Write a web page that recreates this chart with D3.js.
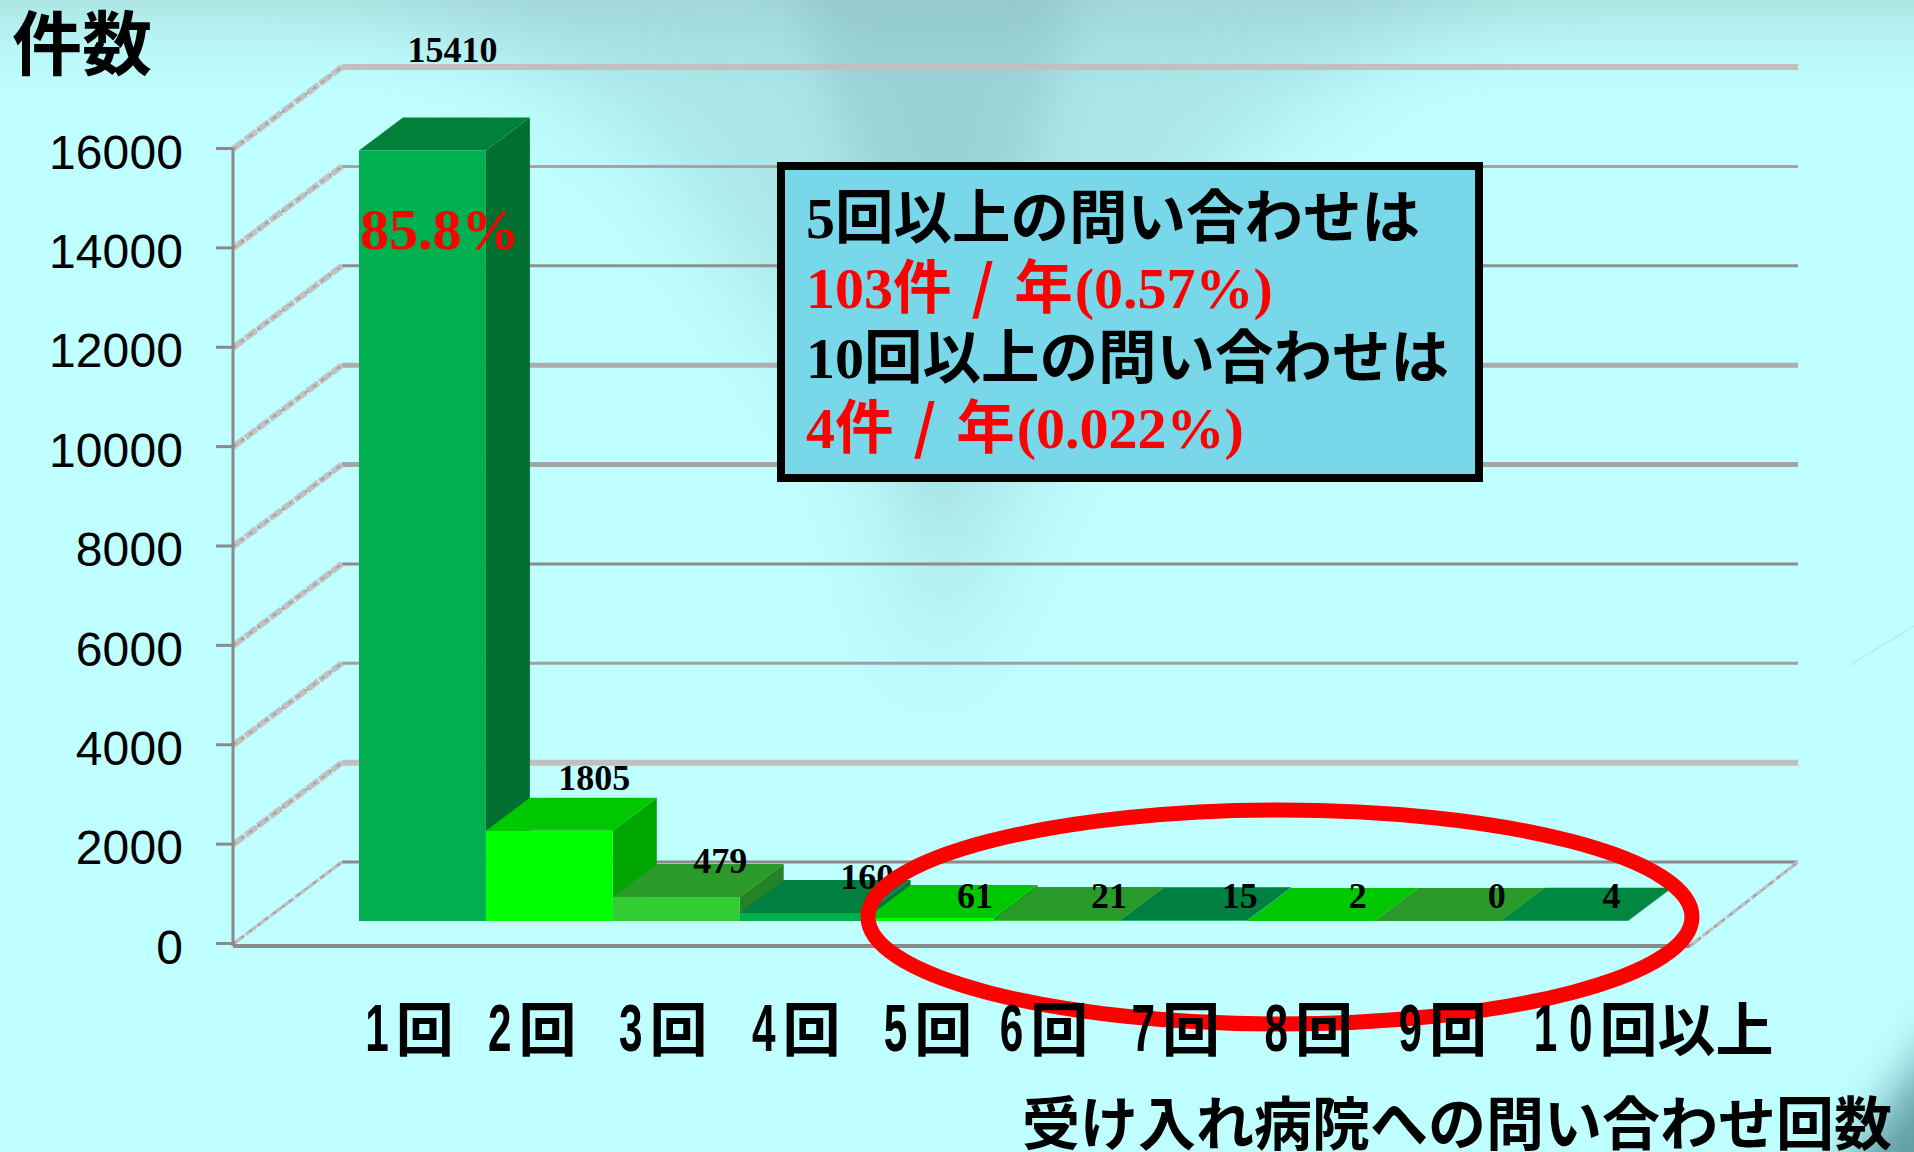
<!DOCTYPE html>
<html>
<head>
<meta charset="utf-8">
<style>
  html, body { margin: 0; padding: 0; background: #bfffff; overflow: hidden; }
  .gothic { font-family: "Noto Sans CJK JP"; font-weight: 700; }
  .serif { font-family: "Liberation Serif"; font-weight: 700; }
</style>
<script src="https://cdn.jsdelivr.net/npm/d3@7"></script>
</head>
<body>
<div id="chart"></div>
<script>
const categories = ["1", "2", "3", "4", "5", "6", "7", "8", "9", "1 0"];
const tickSuffix = ["回", "回", "回", "回", "回", "回", "回", "回", "回", "回以上"];
const counts = [15410, 1805, 479, 160, 61, 21, 15, 2, 0, 4];
const yTicks = [0, 2000, 4000, 6000, 8000, 10000, 12000, 14000, 16000];
const boxLines = [
    [["serif", "5", 0], ["gothic", "回以上の問い合わせは", 0]],
    [["serif", "103", 0], ["gothic", "件", 0], ["gothic", "/", 20], ["gothic", "年", 20], ["serif", "(0.57%)", 2]],
    [["serif", "10", 0], ["gothic", "回以上の問い合わせは", 0]],
    [["serif", "4", 0], ["gothic", "件", 0], ["gothic", "/", 20], ["gothic", "年", 20], ["serif", "(0.022%)", 2]]
];

const width = 1914, height = 1152;
const depthX = 44, depthY = 33;      // bar depth
const wallX = 109, wallY = -81;      // side wall depth

// bar faces repeat every three bars
const faces = [
    { front: "#00b050", top: "#008039", side: "#006f30" },
    { front: "#00ff00", top: "#00c800", side: "#00a600" },
    { front: "#33cc33", top: "#2a9a2a", side: "#248424" },
    { front: "#00b050", top: "#008040", side: "#00733a" },
    { front: "#00ff00", top: "#00c800", side: "#00a600" },
    { front: "#33cc33", top: "#2a9a2a", side: "#248424" },
    { front: "#00b050", top: "#008040", side: "#00733a" },
    { front: "#00ff00", top: "#00c800", side: "#00a600" },
    { front: "#33cc33", top: "#2a9a2a", side: "#248424" },
    { front: "#00b050", top: "#008840", side: "#00733a" }
];

// hand placed labels in the original
const labelDx = [-14, 1, 0, 20, 1, 8, 12, 3, 15, 3];
const labelDy = [-56, -8, 9, 9, 23, 21, 21, 20, 20, 20];
const tickDx = [-13, -17, -13, -7, -2, -13, -8, -2, 5, 89];
const gridStyle = [
    ["#8a8a8a", 3], ["#c0c0c0", 6], ["#a0a0a0", 3], ["#8c8c8c", 3], ["#a4a4a4", 5],
    ["#adadad", 5], ["#909090", 3], ["#a4a4a4", 3], ["#c0c0c0", 6]
];

const x = d3.scaleBand().domain(d3.range(counts.length)).range([359, 1628]).padding(0);
const yBar = d3.scaleLinear().domain([0, 16000]).range([921, 121]);
const yAxis = d3.scaleLinear().domain([0, 16000]).range([943, 148]);

const svg = d3.select("#chart")
              .append("svg")
              .attr("width", width)
              .attr("height", height)
              .attr("viewBox", `0 0 ${width} ${height}`)
              .style("display", "block");

// Background
const defs = svg.append("defs");
defs.append("filter").attr("id", "blur40").attr("x", "-50%").attr("y", "-50%").attr("width", "200%").attr("height", "200%")
    .append("feGaussianBlur").attr("stdDeviation", 50);
defs.append("filter").attr("id", "blur20").attr("x", "-50%").attr("y", "-50%").attr("width", "200%").attr("height", "200%")
    .append("feGaussianBlur").attr("stdDeviation", 24);
const topGrad = defs.append("linearGradient").attr("id", "topBand").attr("x1", 0).attr("y1", 0).attr("x2", 0).attr("y2", 1);
topGrad.append("stop").attr("offset", 0).attr("stop-color", "#aee4e4").attr("stop-opacity", 1);
topGrad.append("stop").attr("offset", 1).attr("stop-color", "#bfffff").attr("stop-opacity", 0);

svg.append("rect").attr("width", width).attr("height", height).attr("fill", "#bfffff");
svg.append("rect").attr("width", width).attr("height", 115).attr("fill", "url(#topBand)");
svg.append("path")
   .attr("d", "M300,-80 L1560,-80 L1240,150 L1030,470 L930,700 L880,470 L650,150 Z")
   .attr("fill", "#8fc4c8").attr("opacity", 0.42).attr("filter", "url(#blur40)");
svg.append("path")
   .attr("d", "M780,-60 L1090,-60 L1010,240 L930,520 L880,240 Z")
   .attr("fill", "#7fb4b8").attr("opacity", 0.36).attr("filter", "url(#blur20)");
svg.append("path")
   .attr("d", "M1960,1010 L1960,1200 L1820,1200 Z")
   .attr("fill", "#5f9ca4").attr("filter", "url(#blur20)");
svg.append("line").attr("x1", 1850).attr("y1", 665).attr("x2", 1914).attr("y2", 626)
   .attr("stroke", "#a8e4e4").attr("stroke-width", 2).attr("opacity", 0.5);

// Wall grid
const grid = svg.append("g");
grid.selectAll("line.back")
    .data(yTicks)
    .join("line")
    .attr("class", "back")
    .attr("x1", 233 + wallX).attr("x2", 1798)
    .attr("y1", d => yAxis(d) + wallY).attr("y2", d => yAxis(d) + wallY)
    .attr("stroke", (d, i) => gridStyle[i][0])
    .attr("stroke-width", (d, i) => gridStyle[i][1]);

grid.selectAll("line.wall")
    .data(yTicks)
    .join("line")
    .attr("class", "wall")
    .attr("x1", 233).attr("x2", 233 + wallX)
    .attr("y1", d => yAxis(d) + 1).attr("y2", d => yAxis(d) + wallY)
    .attr("stroke", "#c2c2c2")
    .attr("stroke-width", d => d === 0 ? 3.5 : 6)
    .attr("stroke-dasharray", "14 1.5");
grid.selectAll("line.wallInner")
    .data(yTicks)
    .join("line")
    .attr("class", "wallInner")
    .attr("x1", 233).attr("x2", 233 + wallX)
    .attr("y1", d => yAxis(d) + 1).attr("y2", d => yAxis(d) + wallY)
    .attr("stroke", "#9a9a9a")
    .attr("stroke-width", 1.5)
    .attr("stroke-dasharray", "4 6");

// Right end of the floor
grid.append("line")
    .attr("x1", 1690).attr("y1", 946).attr("x2", 1798).attr("y2", 862)
    .attr("stroke", "#c2c2c2").attr("stroke-width", 3.5).attr("stroke-dasharray", "14 1.5");
grid.append("line")
    .attr("x1", 1690).attr("y1", 946).attr("x2", 1798).attr("y2", 862)
    .attr("stroke", "#9a9a9a").attr("stroke-width", 1.5).attr("stroke-dasharray", "4 6");

// Axes
const axisG = svg.append("g").attr("transform", "translate(233,0)")
    .call(d3.axisLeft(yAxis).tickValues(yTicks).tickSize(17).tickPadding(33).tickFormat(d3.format("d")));
axisG.select(".domain").attr("stroke", "#8a8a8a").attr("stroke-width", 3).attr("d", "M0,148V946");
axisG.selectAll(".tick line").attr("stroke", "#8a8a8a").attr("stroke-width", 3);
axisG.selectAll(".tick text")
     .attr("font-family", "Liberation Sans")
     .attr("font-size", 48)
     .attr("letter-spacing", 0.1)
     .attr("fill", "#000")
     .attr("dy", "0.42em");

svg.append("line")
   .attr("x1", 233).attr("x2", 1690).attr("y1", 946).attr("y2", 946)
   .attr("stroke", "#8a8a8a").attr("stroke-width", 4);

// Bars, left to right so each one covers the side of the last
const bars = svg.append("g")
                .selectAll("g")
                .data(counts)
                .join("g");

bars.append("path")
    .attr("fill", (d, i) => faces[i].side)
    .attr("d", (d, i) => {
        const r = x(i) + x.bandwidth(), t = yBar(d), b = yBar(0);
        return `M${r},${t}L${r + depthX},${t - depthY}L${r + depthX},${b - depthY}L${r},${b}Z`;
    });
bars.append("path")
    .attr("fill", (d, i) => faces[i].top)
    .attr("d", (d, i) => {
        const l = x(i), r = l + x.bandwidth(), t = yBar(d);
        return `M${l},${t}L${r},${t}L${r + depthX},${t - depthY}L${l + depthX},${t - depthY}Z`;
    });
bars.append("rect")
    .attr("x", (d, i) => x(i))
    .attr("width", x.bandwidth())
    .attr("y", d => yBar(d))
    .attr("height", d => yBar(0) - yBar(d))
    .attr("fill", (d, i) => faces[i].front);

// Value labels
svg.append("g")
   .selectAll("text")
   .data(counts)
   .join("text")
   .attr("class", "serif")
   .attr("font-size", 36)
   .attr("text-anchor", "middle")
   .attr("x", (d, i) => x(i) + x.bandwidth() / 2 + depthX + labelDx[i])
   .attr("y", (d, i) => yBar(d) - depthY + labelDy[i])
   .text(d => d);

svg.append("text")
   .attr("class", "serif")
   .attr("x", 360).attr("y", 249)
   .attr("font-size", 58)
   .attr("fill", "#ff0000")
   .text("85.8%");

// Note box
svg.append("rect")
   .attr("x", 781).attr("y", 166)
   .attr("width", 698).attr("height", 312)
   .attr("fill", "#78d7e8")
   .attr("stroke", "#000")
   .attr("stroke-width", 8);

const boxText = svg.append("g")
                   .selectAll("text")
                   .data(boxLines)
                   .join("text")
                   .attr("x", 806)
                   .attr("y", (d, i) => [238, 308, 378, 448][i])
                   .attr("fill", (d, i) => i % 2 ? "#ff0000" : "#000");
boxText.selectAll("tspan")
       .data(d => d)
       .join("tspan")
       .attr("class", d => d[0])
       .attr("font-size", d => d[0] === "serif" ? 58 : 58.5)
       .attr("dx", d => d[2])
       .text(d => d[1]);

// Ellipse round the small counts
svg.append("ellipse")
   .attr("cx", 1280).attr("cy", 917)
   .attr("rx", 412).attr("ry", 107)
   .attr("fill", "none")
   .attr("stroke", "#ff0000")
   .attr("stroke-width", 15);

// Category labels: narrow digit, then the wide kanji
const digitScale = 0.64, suffixSize = 58, tickGap = 7;
const ticks = svg.append("g")
                 .selectAll("g")
                 .data(categories)
                 .join("g");
ticks.append("text")
     .attr("font-family", "Liberation Sans")
     .attr("font-weight", 700)
     .attr("font-size", 66)
     .text(d => d)
     .each(function(d, i) {
         const w = this.getComputedTextLength() * digitScale;
         const total = w + tickGap + tickSuffix[i].length * suffixSize;
         const left = x(i) + x.bandwidth() / 2 + tickDx[i] - total / 2;
         d3.select(this).attr("transform", `translate(${left},1051) scale(${digitScale},1)`);
         d3.select(this.parentNode).append("text")
           .attr("class", "gothic")
           .attr("font-size", suffixSize)
           .attr("x", left + w + tickGap)
           .attr("y", 1051)
           .text(tickSuffix[i]);
     });

// Titles
svg.append("text")
   .attr("class", "gothic")
   .attr("x", 12).attr("y", 70)
   .attr("font-size", 70)
   .text("件数");

svg.append("text")
   .attr("class", "gothic")
   .attr("x", 1022).attr("y", 1145)
   .attr("font-size", 58)
   .text("受け入れ病院への問い合わせ回数");
</script>
</body>
</html>
